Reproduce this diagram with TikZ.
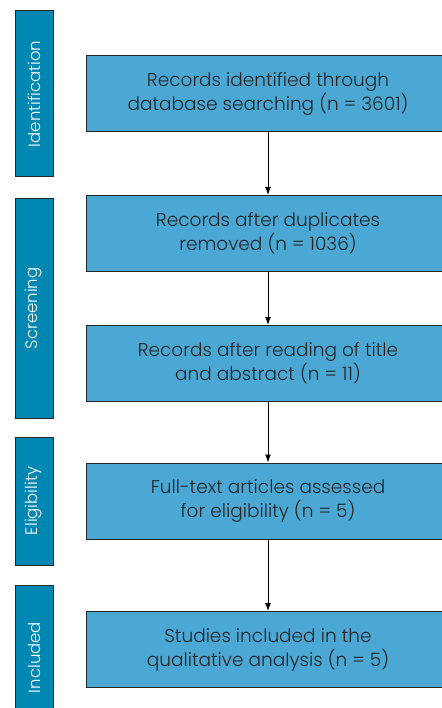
\documentclass[tikz,border=0pt]{standalone}
\usepackage{fontspec}
\setmainfont{Poppins Light}
\usetikzlibrary{arrows.meta}
\definecolor{boxBlue}{HTML}{4BA7D4}
\definecolor{barBlue}{HTML}{0087B2}
\begin{document}
\begin{tikzpicture}[x=1pt,y=-1pt,
                    stepBox/.style={rectangle,draw=black!85,fill=boxBlue,line width=1pt,
                      minimum width=364pt,minimum height=76pt,align=center,
                      text=black!85,font=\fontsize{18.5}{24}\selectfont},
                    phaseBar/.style={rectangle,draw=black!85,fill=barBlue,line width=1pt,
                      minimum height=38pt,rotate=90,text=white,
                      font=\fontsize{16.5}{18}\selectfont},
                    flowArrow/.style={-{Latex[length=8pt,width=6pt]},line width=1pt}]
    \useasboundingbox (0,0) rectangle (441,708);
    % phases
    \node [phaseBar,minimum width=166pt] (identBar) at (34,94) {Identification};
    \node [phaseBar,minimum width=219pt] (screenBar) at (34,308.5) {Screening};
    \node [phaseBar,minimum width=128pt] (eligBar) at (34,501) {Eligibility};
    \node [phaseBar,minimum width=145pt] (inclBar) at (34,657.5) {Included};
    % steps
    \node [stepBox] (identified) at (268,94) {Records identified through\\database searching (n = 3601)};
    \node [stepBox] (deduped) at (268,233.5) {Records after duplicates\\removed (n = 1036)};
    \node [stepBox] (titleRead) at (268,363.5) {Records after reading of title\\and abstract (n = 11)};
    \node [stepBox] (fullText) at (268,501) {Full-text articles assessed\\for eligibility (n = 5)};
    \node [stepBox] (included) at (268,649.5) {Studies included in the\\qualitative analysis (n = 5)};
    \draw [flowArrow] (identified) -- (deduped);
    \draw [flowArrow] (deduped) -- (titleRead);
    \draw [flowArrow] (titleRead) -- (fullText);
    \draw [flowArrow] (fullText) -- (included);
  \end{tikzpicture}
\end{document}
